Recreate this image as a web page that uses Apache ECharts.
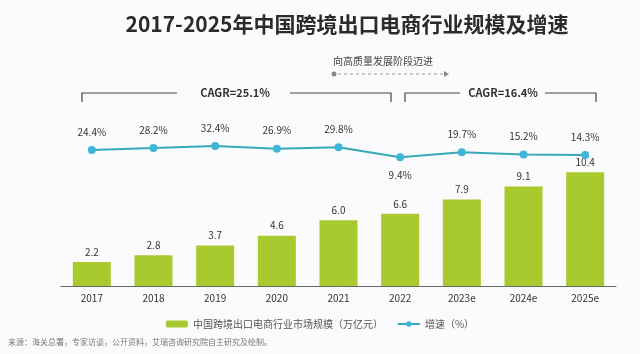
<!DOCTYPE html>
<html>
<head>
<meta charset="utf-8">
<script src="https://cdn.jsdelivr.net/npm/echarts@6/dist/echarts.min.js"></script>
<style>
  html, body { margin: 0; padding: 0; background: #fbfbfd; }
  #chart { width: 640px; height: 354px; }
</style>
</head>
<body>
<div id="chart"></div>
<script>
  // data
  var years = ['2017', '2018', '2019', '2020', '2021', '2022', '2023e', '2024e', '2025e']
  var scale = [2.2, 2.8, 3.7, 4.6, 6.0, 6.6, 7.9, 9.1, 10.4]
  var growth = [24.4, 28.2, 32.4, 26.9, 29.8, 9.4, 19.7, 15.2, 14.3]
  var barName = '中国跨境出口电商行业市场规模（万亿元）'
  var lineName = '增速（%）'

  var chart = echarts.init(document.getElementById('chart'))

  var growthData = growth.map(function (v, i) {
    var item = { value: v }
    // the 2022 label sits under the point
    if (i === 5) item.label = { position: 'bottom' }
    return item
  })

  var fontFam = '"Noto Sans CJK SC", "Noto Sans", sans-serif'
  var gray = '#333'

  chart.setOption({
    backgroundColor: '#fbfbfd',
    textStyle: { fontFamily: fontFam },
    title: {
      text: '2017-2025年中国跨境出口电商行业规模及增速',
      left: 342,
      top: 9,
      textAlign: 'center',
      textStyle: { fontSize: 21, fontWeight: 'bold', color: '#2b2b2b', fontFamily: fontFam }
    },
    legend: {
      bottom: 20,
      left: 'center',
      itemWidth: 22,
      itemHeight: 7,
      itemGap: 14,
      textStyle: { fontSize: 10, color: '#555' },
      data: [{ name: barName }, { name: lineName }]
    },
    grid: { left: 61, right: 24, top: 100, bottom: 68 },
    xAxis: {
      type: 'category',
      data: years,
      axisLine: { lineStyle: { color: '#666', width: 1 } },
      axisTick: { show: false },
      axisLabel: { fontSize: 10, color: gray, margin: 7 }
    },
    yAxis: [
      { type: 'value', min: 0, max: 17, show: false, splitLine: { show: false } },
      { type: 'value', min: -250, max: 125, show: false, splitLine: { show: false } }
    ],
    series: [
      {
        name: barName,
        type: 'bar',
        data: scale,
        barWidth: 38,
        itemStyle: { color: '#a9ca2e' },
        label: {
          show: true, position: 'top', distance: 5, fontSize: 10, color: gray,
          formatter: function (p) { return p.value.toFixed(1) }
        }
      },
      {
        name: lineName,
        type: 'line',
        yAxisIndex: 1,
        data: growthData,
        symbol: 'circle',
        symbolSize: 8,
        lineStyle: { color: '#36a9b8', width: 2 },
        itemStyle: { color: '#3fb5d8' },
        label: {
          show: true,
          position: 'top',
          distance: 9,
          fontSize: 10,
          color: gray,
          formatter: function (p) { return p.value + '%' }
        }
      }
    ],
    graphic: [
      // stage note
      { type: 'text', left: 333, top: 56, style: { text: '向高质量发展阶段迈进', fontSize: 10, fill: '#444', fontFamily: fontFam } },
      { type: 'circle', shape: { cx: 334, cy: 74, r: 2.5 }, style: { fill: '#888' } },
      { type: 'line', shape: { x1: 338, y1: 74, x2: 444, y2: 74 }, style: { stroke: '#999', lineWidth: 1, lineDash: [3, 3] } },
      { type: 'polygon', shape: { points: [[444, 71], [449, 74], [444, 77]] }, style: { fill: '#888' } },
      // left bracket
      { type: 'polyline', shape: { points: [[82, 102], [82, 93], [177, 93]] }, style: { stroke: '#444', lineWidth: 1.2, fill: null } },
      { type: 'polyline', shape: { points: [[290, 93], [391, 93], [391, 102]] }, style: { stroke: '#444', lineWidth: 1.2, fill: null } },
      { type: 'text', x: 235, y: 93, style: { text: 'CAGR=25.1%', fontSize: 11, fontWeight: 'bold', fill: '#333', align: 'center', verticalAlign: 'middle', fontFamily: fontFam } },
      // right bracket
      { type: 'polyline', shape: { points: [[405, 102], [405, 93], [460, 93]] }, style: { stroke: '#444', lineWidth: 1.2, fill: null } },
      { type: 'polyline', shape: { points: [[545, 93], [596, 93], [596, 102]] }, style: { stroke: '#444', lineWidth: 1.2, fill: null } },
      { type: 'text', x: 503, y: 93, style: { text: 'CAGR=16.4%', fontSize: 11, fontWeight: 'bold', fill: '#333', align: 'center', verticalAlign: 'middle', fontFamily: fontFam } },
      // source note
      { type: 'text', left: 8, top: 338, style: { text: '来源：海关总署，专家访谈，公开资料，艾瑞咨询研究院自主研究及绘制。', fontSize: 8, fill: '#777', fontFamily: fontFam } }
    ]
  })
</script>
</body>
</html>
